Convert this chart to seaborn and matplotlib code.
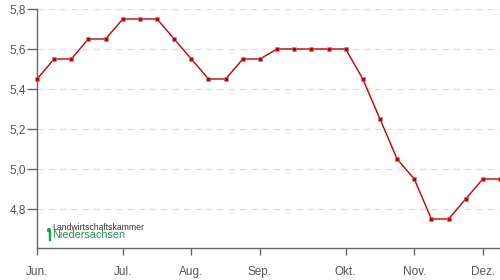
import matplotlib
matplotlib.use("Agg")
import matplotlib.pyplot as plt
import seaborn as sns
import pandas as pd

weeks = list(range(28))
prices = [5.45, 5.55, 5.55, 5.65, 5.65, 5.75, 5.75, 5.75, 5.65, 5.55,
          5.45, 5.45, 5.55, 5.55, 5.6, 5.6, 5.6, 5.6, 5.6, 5.45,
          5.25, 5.05, 4.95, 4.75, 4.75, 4.85, 4.95, 4.95]
month_ticks = [0, 5, 9, 13, 18, 22, 26]
month_labels = ["Jun.", "Jul.", "Aug.", "Sep.", "Okt.", "Nov.", "Dez."]
y_ticks = [4.8, 5.0, 5.2, 5.4, 5.6, 5.8]
y_labels = ["4,8", "5,0", "5,2", "5,4", "5,6", "5,8"]

df = pd.DataFrame({"week": weeks, "price": prices})

sns.set_theme(style="white")
plt.rcParams["font.family"] = ["Liberation Sans", "DejaVu Sans"]

fig = plt.figure(figsize=(5, 2.8), dpi=100)
ax = fig.add_axes([37/500, 1 - 248/280, 1 - 37/500, (248 - 9)/280])

sns.lineplot(data=df, x="week", y="price", ax=ax, color="#c00000", linewidth=1.0,
             marker="s", markersize=3.2, markeredgecolor="#999999", markeredgewidth=0.4,
             clip_on=False, zorder=3)

ax.set_xlim(0, 27)
ax.set_ylim(4.605, 5.8)
ax.set_xticks(month_ticks)
ax.set_xticklabels(month_labels)
ax.set_yticks(y_ticks)
ax.set_yticklabels(y_labels)
ax.set_xlabel("")
ax.set_ylabel("")

for yv in y_ticks:
    ax.axhline(yv, color="#dddddd", linewidth=0.9, linestyle=(0, (5, 4)), zorder=1)

for s in ["top", "right"]:
    ax.spines[s].set_visible(False)
for s in ["left", "bottom"]:
    ax.spines[s].set_color("#666666")
    ax.spines[s].set_linewidth(1.0)

ax.tick_params(axis="x", direction="out", length=5, width=1, color="#666666",
               labelsize=8.5, labelcolor="#555555", pad=8, bottom=True)
ax.tick_params(axis="y", direction="out", length=7, width=1, color="#666666",
               labelsize=8.5, labelcolor="#555555", pad=1, left=True)

# logo
green = "#1a9a4a"
fig.text(48/500, 1 - 229.5/280, "\u25CF", color=green, fontsize=7, ha="center", va="center")
fig.patches.append(plt.Rectangle((48.5/500, 1 - 240/280), 1.5/500, 10/280,
                                 transform=fig.transFigure, color=green, figure=fig))
fig.text(52/500, 1 - 227/280, "Landwirtschaftskammer", color="#333333", fontsize=6.2,
         ha="left", va="center")
fig.text(52.5/500, 1 - 235.5/280, "Niedersachsen", color=green, fontsize=7.8,
         ha="left", va="center")

fig.savefig("out.png", dpi=100)
